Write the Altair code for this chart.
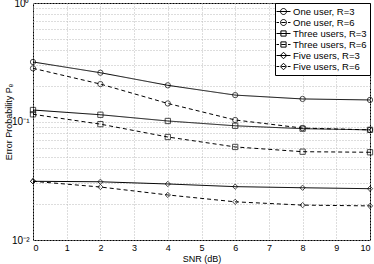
import altair as alt
import pandas as pd

snr = [0, 2, 4, 6, 8, 10]
series_names = ["One user, R=3", "One user, R=6", "Three users, R=3",
                "Three users, R=6", "Five users, R=3", "Five users, R=6"]
one_r3 = [0.318, 0.258, 0.202, 0.167, 0.155, 0.152]
one_r6 = [0.281, 0.207, 0.142, 0.103, 0.088, 0.085]
three_r3 = [0.125, 0.114, 0.101, 0.092, 0.087, 0.085]
three_r6 = [0.115, 0.095, 0.074, 0.061, 0.0556, 0.055]
five_r3 = [0.0313, 0.031, 0.0297, 0.0282, 0.0276, 0.0271]
five_r6 = [0.0313, 0.028, 0.024, 0.021, 0.0197, 0.0194]
all_vals = [one_r3, one_r6, three_r3, three_r6, five_r3, five_r6]

x_ticks = list(range(0, 11))
y_grid = [m * 10.0 ** e for e in (-2, -1) for m in range(1, 10)] + [1.0]

rows = []
for name, vals in zip(series_names, all_vals):
    for x, v in zip(snr, vals):
        rows.append({"snr": x, "pe": v, "series": name})
df = pd.DataFrame(rows)

FONT = "Liberation Sans"

circle = "M0.6,0A0.6,0.6,0,1,1,-0.6,0A0.6,0.6,0,1,1,0.6,0Z"
square = "M-0.52,-0.52H0.52V0.52H-0.52Z"
diamond = "M0,-0.65L0.65,0L0,0.65L-0.65,0Z"
solid = "M-1.4,0H1.4"
dashed = "M-1.4,0H-0.9M-0.45,0H0.45M0.9,0H1.4"
legend_paths = [solid + circle, dashed + circle, solid + square,
                dashed + square, solid + diamond, dashed + diamond]

x_scale = alt.Scale(domain=[0, 10], nice=False)
y_scale = alt.Scale(type="log", domain=[0.01, 1], nice=False)

x_enc = alt.X("snr:Q", title="SNR (dB)", scale=x_scale,
              axis=alt.Axis(values=x_ticks, grid=True, gridDash=[1, 2],
                            gridColor="#bbbbbb", tickSize=0, labelPadding=3,
                            titleY=18, titleBaseline="middle",
                            domain=False, labelOverlap=False))
y_enc = alt.Y("pe:Q", title="Error Probability Pₑ", scale=y_scale,
              axis=alt.Axis(values=y_grid, grid=True, gridDash=[1, 2],
                            gridColor="#bbbbbb", tickSize=0, labelPadding=4,
                            labelOverlap=False, labelFontSize=10,
                            labelExpr="datum.value == 1 ? '10⁰' : datum.value == 0.1 ? '10⁻¹' : datum.value == 0.01 ? '10⁻²' : ''",
                            titleX=-25, titleY=118.5, titleBaseline="middle",
                            titleAlign="center", titleAngle=270, domain=False))

base = alt.Chart(df)

lines = base.mark_line(color="black", strokeWidth=1).encode(
    x=x_enc, y=y_enc,
    strokeDash=alt.StrokeDash("series:N", sort=series_names,
                              scale=alt.Scale(domain=series_names,
                                              range=[[1, 0], [4, 3], [1, 0], [4, 3], [1, 0], [4, 3]]),
                              legend=None),
)

points = base.mark_point(color="black", filled=False, strokeWidth=1, size=28).encode(
    x=x_enc, y=y_enc,
    shape=alt.Shape("series:N", sort=series_names,
                    scale=alt.Scale(domain=series_names,
                                    range=["circle", "circle", "square", "square", "diamond", "diamond"]),
                    legend=None),
)

legend_layer = base.transform_filter("datum.snr < -100").mark_point(
    color="black", filled=False).encode(
    x=x_enc, y=y_enc,
    strokeWidth=alt.value(1),
    shape=alt.Shape("series:N", sort=series_names,
                    scale=alt.Scale(domain=series_names, range=legend_paths),
                    legend=alt.Legend(title=None, orient="top-right", offset=0,
                                      strokeColor="black", fillColor="white",
                                      padding=3, rowPadding=-1,
                                      symbolSize=100, symbolStrokeColor="black",
                                      symbolFillColor="transparent",
                                      symbolStrokeWidth=1, symbolOpacity=1,
                                      labelFontSize=9.5, labelFont=FONT,
                                      labelOffset=4, labelColor="black")),
)

chart = alt.layer(lines, points, legend_layer).resolve_scale(
    shape="independent"
).properties(
    width=337, height=237,
    autosize=alt.AutoSizeParams(type="none"),
    padding={"left": 33, "top": 3, "right": 4, "bottom": 24},
).configure_view(
    stroke="black", strokeWidth=1
).configure_axis(
    labelFont=FONT, titleFont=FONT, labelFontSize=9, titleFontSize=9,
    titleFontWeight="normal", labelColor="black", titleColor="black",
)

chart.save("out.html", embed_options={"renderer": "svg", "actions": False})
